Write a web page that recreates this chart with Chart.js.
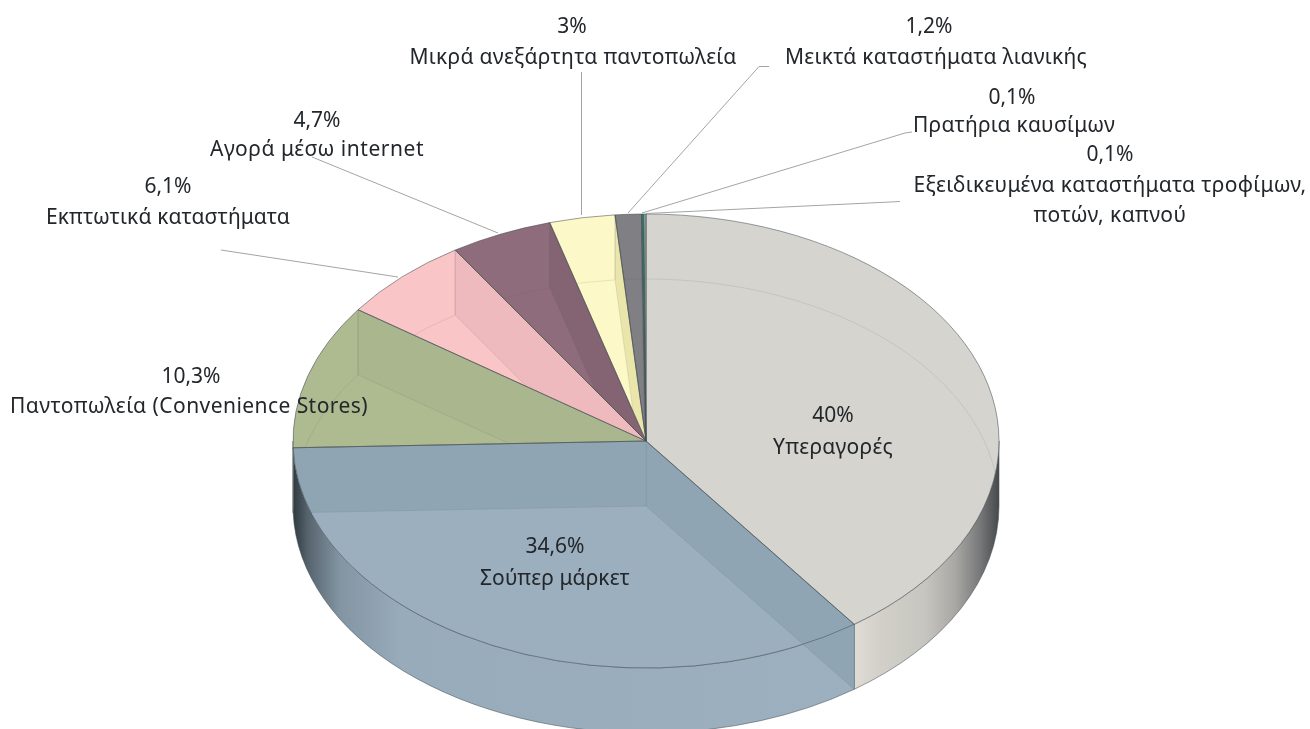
<!DOCTYPE html>
<html><head><meta charset="utf-8">
<style>html,body{margin:0;padding:0;background:#fff;overflow:hidden}#w{position:relative;width:1310px;height:729px}</style>
<script src="https://cdn.jsdelivr.net/npm/chart.js@4"></script>
</head><body><div id="w"><canvas id="c" width="1310" height="729"></canvas></div>
<script>
const categories = ["Υπεραγορές","Σούπερ μάρκετ","Παντοπωλεία (Convenience Stores)","Εκπτωτικά καταστήματα","Αγορά μέσω internet","Μικρά ανεξάρτητα παντοπωλεία","Μεικτά καταστήματα λιανικής","Πρατήρια καυσίμων","Εξειδικευμένα καταστήματα τροφίμων, ποτών, καπνού"];
const values = [40,34.6,10.3,6.1,4.7,3,1.2,0.1,0.1];
const valueLabels = ["40%","34,6%","10,3%","6,1%","4,7%","3%","1,2%","0,1%","0,1%"];
const sideColors = ["#d3d2cc","#90a5b3","#a9b68e","#efbabe","#846473","#e9e5ab","#707076","#2f8069","#3f9a80"];
const faceColors = ["#d5d4ce","#9bafbe","#aeba90","#f9c5c6","#8f6c7b","#fcf8c8","#7f7f84","#2f8069","#a9cfc2"];

// [x, baseline y, target width] per text line, per slice
const textLayout = [
 [[833,422],[833,454,120]],
 [[555,553],[555,585,150]],
 [[191,383],[189,413,358]],
 [[168,193],[168,224,244]],
 [[317,127],[317,156,214]],
 [[572,33],[573,64,327]],
 [[929,33],[936,64,302]],
 [[1012,104],[1014,132,202]],
 [[1110,161],[1110,192,393],[1110,222,153]]
];
const extraLines = {8:["Εξειδικευμένα καταστήματα τροφίμων,","ποτών, καπνού"]};
// leader lines: outer points; last point is on the rim
const leaders = [
 null,null,null,
 [[221,250],[398,277]],
 [[312,157],[498,233]],
 [[581.5,72],[581.5,215]],
 [[769,66.5],[759,66.5],[628,213]],
 [[912,132],[905,133],[642,213]],
 [[900,201.5],[880,202.5],[646,213.5]]
];
const TOP_RATIO = 227/353, DEPTH = 65, SCREEN_CY = 441;

function geo(chart){
  const el = chart.getDatasetMeta(0).data[0];
  return {cx:el.x, cy:SCREEN_CY, rx:el.outerRadius, ry:el.outerRadius*TOP_RATIO, sy:el.y};
}
function slice(ctx,g,a,b,dy){
  ctx.moveTo(g.cx,g.cy+dy);
  ctx.ellipse(g.cx,g.cy+dy,g.rx,g.ry,0,a,b);
  ctx.closePath();
}
function wallRange(a,b){
  const lo=Math.max(a,0), hi=Math.min(b,Math.PI);
  return hi>lo?[lo,hi]:null;
}
function wall(ctx,g,a,b){
  const r=wallRange(a,b); if(!r) return false;
  ctx.moveTo(g.cx+g.rx*Math.cos(r[0]),g.cy+g.ry*Math.sin(r[0]));
  ctx.ellipse(g.cx,g.cy,g.rx,g.ry,0,r[0],r[1]);
  ctx.lineTo(g.cx+g.rx*Math.cos(r[1]),g.cy+DEPTH+g.ry*Math.sin(r[1]));
  ctx.ellipse(g.cx,g.cy+DEPTH,g.rx,g.ry,0,r[1],r[0],true);
  ctx.closePath();
  return true;
}
function wallGradient(ctx,i,g){
  const L=g.cx-g.rx, W=2*g.rx;
  const gr=ctx.createLinearGradient(L,0,L+W,0);
  const st=(x,c)=>gr.addColorStop(Math.max(0,Math.min(1,(x-L)/W)),c);
  if(i===0){
    st(853,"#e0ddd6");st(880,"#d2d0c9");st(925,"#c6c5bf");st(955,"#a9a8a4");st(980,"#77787a");st(998,"#4a4b4d");
  } else if(i===1){
    st(293,"#2f393f");st(308,"#56646e");st(340,"#8395a3");st(400,"#98abba");st(853,"#9cb0bf");
  } else {
    st(293,faceColors[i]);st(998,faceColors[i]);
  }
  return gr;
}
function sideFace(ctx,g,t){
  const x=g.cx+g.rx*Math.cos(t), y=g.cy+g.ry*Math.sin(t);
  ctx.beginPath(); ctx.moveTo(g.cx,g.cy); ctx.lineTo(x,y); ctx.lineTo(x,y+DEPTH); ctx.lineTo(g.cx,g.cy+DEPTH); ctx.closePath();
}
const pie3d = {
  id:"pie3d",
  beforeDatasetsDraw(chart){
    const ctx=chart.ctx, g=geo(chart), arcs=chart.getDatasetMeta(0).data;
    arcs.forEach((el,i)=>{
      ctx.beginPath();
      if(wall(ctx,g,el.startAngle,el.endAngle)){
        ctx.fillStyle=wallGradient(ctx,i,g); ctx.fill();
        ctx.strokeStyle="rgba(70,80,85,.55)"; ctx.lineWidth=1; ctx.stroke();
      }
    });
    ctx.save();
    ctx.translate(g.cx,g.cy);
    ctx.scale(1,TOP_RATIO);
    ctx.translate(-g.cx,-g.sy);
  },
  afterDatasetsDraw(chart){
    const ctx=chart.ctx; ctx.restore();
    const g=geo(chart), arcs=chart.getDatasetMeta(0).data;
    arcs.forEach((el,i)=>{
      const a=el.startAngle,b=el.endAngle;
      ctx.fillStyle=sideColors[i];
      ctx.strokeStyle="rgba(90,95,100,.13)"; ctx.lineWidth=1;
      // see-through: leading side face shows through the slice and its front wall
      ctx.save();
      ctx.beginPath(); slice(ctx,g,a,b,0); wall(ctx,g,a,b); ctx.clip();
      sideFace(ctx,g,a); ctx.fill(); ctx.stroke();
      ctx.restore();
      // see-through: trailing side face, floor outline, vertical edges inside the top face
      ctx.save();
      ctx.beginPath(); slice(ctx,g,a,b,0); ctx.clip();
      sideFace(ctx,g,b); ctx.fill(); ctx.stroke();
      ctx.beginPath(); ctx.ellipse(g.cx,g.cy+DEPTH,g.rx,g.ry,0,a,b); ctx.stroke();
      [a,b].forEach(t=>{
        const x=g.cx+g.rx*Math.cos(t), y=g.cy+g.ry*Math.sin(t);
        ctx.beginPath(); ctx.moveTo(x,y); ctx.lineTo(x,y+DEPTH); ctx.stroke();
      });
      ctx.restore();
    });
    arcs.forEach(el=>{
      ctx.beginPath(); slice(ctx,g,el.startAngle,el.endAngle,0);
      ctx.strokeStyle="rgba(70,80,85,.55)"; ctx.lineWidth=1; ctx.stroke();
    });
  }
};
function putText(ctx,t,x,y,w){
  ctx.letterSpacing="0px";
  if(w){
    const m=ctx.measureText(t).width;
    ctx.letterSpacing=((w-m)/t.length).toFixed(3)+"px";
  }
  ctx.fillText(t,x,y);
}
const labelsPlugin = {
  id:"pieLabels",
  afterDraw(chart){
    const ctx=chart.ctx;
    ctx.save();
    ctx.strokeStyle="#a4a4a4"; ctx.lineWidth=1;
    leaders.forEach(p=>{
      if(!p) return;
      ctx.beginPath(); p.forEach((q,i)=>i?ctx.lineTo(q[0],q[1]):ctx.moveTo(q[0],q[1])); ctx.stroke();
    });
    ctx.font='21px "Noto Sans"'; ctx.fillStyle="#23272b"; ctx.textAlign="center"; ctx.textBaseline="alphabetic";
    categories.forEach((c,i)=>{
      const lay=textLayout[i];
      putText(ctx,valueLabels[i],lay[0][0],lay[0][1]);
      const lines=extraLines[i]||[c];
      lines.forEach((l,k)=>putText(ctx,l,lay[k+1][0],lay[k+1][1],lay[k+1][2]));
    });
    ctx.restore();
  }
};
new Chart(document.getElementById("c"),{
  type:"pie",
  data:{labels:categories,datasets:[{data:values,backgroundColor:faceColors,borderWidth:0,clip:false}]},
  options:{
    responsive:false,animation:false,
    layout:{padding:{left:293,right:311,top:10,bottom:13}},
    plugins:{legend:{display:false},tooltip:{enabled:false}}
  },
  plugins:[pie3d,labelsPlugin]
});
</script></body></html>
